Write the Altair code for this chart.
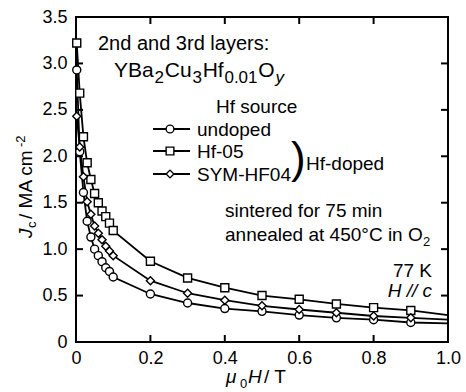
import altair as alt
import pandas as pd

FONT = "Liberation Sans"

# ---------------- data ----------------
field_T = [0.002, 0.01, 0.02, 0.03, 0.04, 0.05, 0.06, 0.07, 0.08, 0.09, 0.1,
           0.2, 0.3, 0.4, 0.5, 0.6, 0.7, 0.8, 0.9, 1.0]
undoped = [2.93, 2.05, 1.61, 1.30, 1.13, 1.00, 0.93, 0.865, 0.80, 0.76, 0.70,
           0.517, 0.42, 0.36, 0.33, 0.29, 0.26, 0.24, 0.21, 0.20]
hf05 = [3.22, 2.68, 2.21, 1.93, 1.75, 1.60, 1.50, 1.41, 1.35, 1.28, 1.20,
        0.87, 0.69, 0.585, 0.50, 0.46, 0.41, 0.37, 0.34, 0.29]
symhf04 = [2.43, 2.10, 1.78, 1.51, 1.375, 1.25, 1.17, 1.10, 1.03, 0.98, 0.93,
           0.66, 0.525, 0.45, 0.39, 0.35, 0.315, 0.28, 0.26, 0.24]
series_names = ["undoped", "Hf-05", "SYM-HF04"]
series_shapes = ["circle", "square", "diamond"]
x_ticks = [0, 0.2, 0.4, 0.6, 0.8, 1.0]
y_ticks = [0, 0.5, 1.0, 1.5, 2.0, 2.5, 3.0, 3.5]

rows = []
for name, vals in zip(series_names, [undoped, hf05, symhf04]):
    for xv, yv in zip(field_T, vals):
        rows.append({"series": name, "H": xv, "Jc": yv})
df = pd.DataFrame(rows)

W, H = 372, 325

xs = alt.Scale(domain=[0, 1.0], nice=False, zero=False)
ys = alt.Scale(domain=[0, 3.5], nice=False, zero=False)

lab_expr = "datum.value == 0 ? '0' : format(datum.value, '.1f')"
x_axis = alt.Axis(values=x_ticks, labelExpr=lab_expr, ticks=False, domain=False, grid=False,
                  labelFont=FONT, labelFontSize=18, labelColor="black", labelPadding=7,
                  title=None, labelFlush=False)
y_axis = alt.Axis(values=y_ticks, labelExpr=lab_expr, ticks=False, domain=False, grid=False,
                  labelFont=FONT, labelFontSize=18, labelColor="black", labelPadding=9,
                  title=None, labelFlush=False)

base = alt.Chart(df)
lines = base.mark_line(color="black", strokeWidth=1.8).encode(
    x=alt.X("H:Q", scale=xs, axis=x_axis),
    y=alt.Y("Jc:Q", scale=ys, axis=y_axis),
    detail="series:N",
)
points = base.transform_filter("datum.H < 0.99").mark_point(
    filled=False, fill="white", fillOpacity=1, stroke="black", strokeWidth=1.4, size=64, opacity=1
).encode(
    x=alt.X("H:Q", scale=xs),
    y=alt.Y("Jc:Q", scale=ys),
    shape=alt.Shape("series:N", scale=alt.Scale(domain=series_names, range=series_shapes), legend=None),
)

# inward ticks
xt = pd.DataFrame({"v": x_ticks[1:-1]})
yt = pd.DataFrame({"v": y_ticks[1:-1]})
tick_b = alt.Chart(xt).mark_rule(color="black", strokeWidth=2).encode(
    x=alt.X("v:Q", scale=xs), y=alt.value(H), y2=alt.value(H - 7))
tick_t = alt.Chart(xt).mark_rule(color="black", strokeWidth=2).encode(
    x=alt.X("v:Q", scale=xs), y=alt.value(0), y2=alt.value(7))
tick_l = alt.Chart(yt).mark_rule(color="black", strokeWidth=2).encode(
    y=alt.Y("v:Q", scale=ys), x=alt.value(0), x2=alt.value(7))
tick_r = alt.Chart(yt).mark_rule(color="black", strokeWidth=2).encode(
    y=alt.Y("v:Q", scale=ys), x=alt.value(W), x2=alt.value(W - 7))

OX, OY = 76, 17  # plot origin in page pixels

# Arial/Liberation Sans advance widths (em)
AW = {"Y": .667, "B": .667, "a": .556, "C": .722, "u": .556, "H": .722, "f": .278,
      "O": .778, "y": .5, "0": .556, "1": .556, "2": .556, "3": .556, ".": .278}


def tw(s, size):
    return sum(AW.get(c, .556) for c in s) * size


def txt(s, x, y, size=19, style="normal", align="left", angle=0):
    return alt.Chart(pd.DataFrame({"t": [s]})).mark_text(
        align=align, baseline="alphabetic", font=FONT, fontSize=size,
        fontStyle=style, angle=angle, color="black"
    ).encode(x=alt.value(x - OX), y=alt.value(y - OY), text="t:N")


# chemical formula YBa2Cu3Hf0.01Oy as chained pieces
formula = [("YBa", 0, "normal"), ("2", 1, "normal"), ("Cu", 0, "normal"), ("3", 1, "normal"),
           ("Hf", 0, "normal"), ("0.01", 1, "normal"), ("O", 0, "normal"), ("y", 1, "italic")]
F_MAIN, F_SUB, GAP = 21, 17, 0.8
fx = 114
formula_layers = []
for s, sub, st in formula:
    size = F_SUB if sub else F_MAIN
    formula_layers.append(txt(s, fx, 83 if sub else 77, size, st))
    fx += tw(s, size) + GAP

texts = [
    txt("2nd and 3rd layers:", 98, 50, 20),
    *formula_layers,
    txt("Hf source", 216, 113, 19),
    txt(")", 291, 173, 44),
    txt("Hf-doped", 306, 170, 19),
    txt("sintered for 75 min", 225, 217, 19),
    txt("annealed at 450°C in O", 225, 241, 19), txt("2", 423, 246, 13),
    txt("77 K", 432, 277, 19, align="right"),
    txt("H // c", 432, 297, 19, "italic", align="right"),
    # x title
    txt("μ", 226, 383, 19, "italic"), txt("0", 240, 388, 13),
    txt("H", 248, 383, 19, "italic"), txt(" / T", 264, 383, 19),
    # y title (rotated)
    txt("J", 32, 238, 19, "italic", angle=270),
    txt("c", 36, 228, 13, angle=270),
    txt(" / MA cm", 32, 219, 19, angle=270),
    txt("-2", 25, 147, 13, angle=270),
]

# manual legend
legend_layers = []
row_y = [129, 151, 174]
for name, shp, ry in zip(series_names, series_shapes, row_y):
    ld = pd.DataFrame({"t": [name]})
    legend_layers.append(alt.Chart(ld).mark_rule(color="black", strokeWidth=1.8).encode(
        x=alt.value(153 - OX), x2=alt.value(190 - OX), y=alt.value(ry - OY)))
    legend_layers.append(alt.Chart(ld).mark_point(
        shape=shp, filled=False, fill="white", fillOpacity=1, stroke="black",
        strokeWidth=1.4, size=60, opacity=1).encode(
        x=alt.value(170 - OX), y=alt.value(ry - OY)))
    legend_layers.append(txt(name, 197, ry + 7, 19))

chart = alt.layer(
    lines, points, tick_b, tick_t, tick_l, tick_r, *legend_layers, *texts
).properties(
    width=W, height=H,
    autosize=alt.AutoSizeParams(type="none"),
    padding={"left": OX, "top": OY, "right": 466 - OX - W, "bottom": 392 - OY - H},
    background="white",
).configure_view(stroke="black", strokeWidth=2)

chart.save("out.html", embed_options={"renderer": "svg", "actions": False})
